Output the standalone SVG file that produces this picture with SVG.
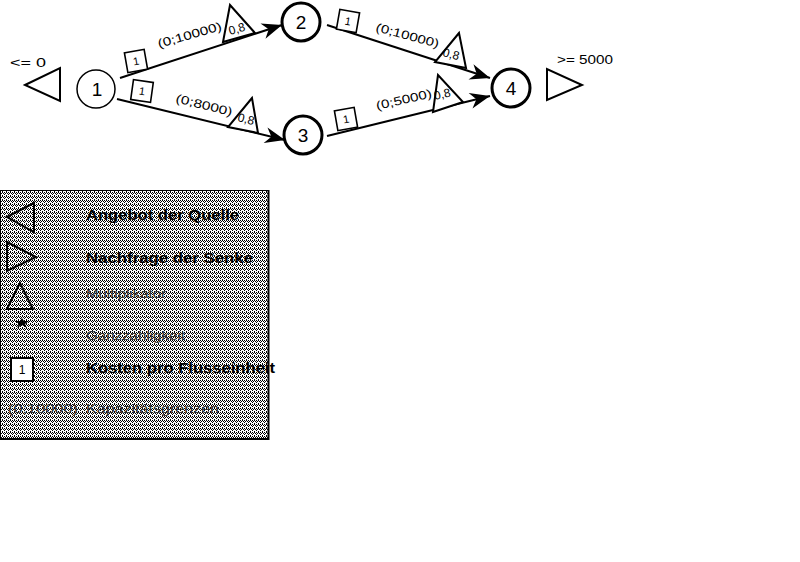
<svg xmlns="http://www.w3.org/2000/svg" width="800" height="562" viewBox="0 0 800 562">
<style>
text{font-family:"Liberation Sans",Arial,sans-serif;fill:#000}
.node circle{fill:#fff;stroke:#000;stroke-width:3}
.num{font-size:19px;text-anchor:middle}
.edge{stroke:#000;stroke-width:2;fill:none;marker-end:url(#ah)}
.mult{fill:#fff;stroke:#000;stroke-width:2;stroke-linejoin:miter}
.cost rect{fill:#fff;stroke:#000;stroke-width:1.6}
.cost text{font-size:11px;text-anchor:middle}
.lbl{font-size:12px}
.ml{font-size:12px}
.sym{fill:none;stroke:#000;stroke-width:2}
.lg{font-size:14px;font-weight:bold}
.lgg{font-size:13px;fill:#303030}
.px{fill:#000}
</style>
<defs>
<marker id="ah" markerUnits="userSpaceOnUse" markerWidth="24" markerHeight="18" viewBox="-22 -9 24 18" refX="0" refY="0" orient="auto">
<path d="M0,0 L-20,-8 L-14,0 L-20,8 Z" fill="#000"/>
</marker>
<pattern id="dith" width="4" height="4" patternUnits="userSpaceOnUse">
<rect width="4" height="4" fill="#fff"/>
<g shape-rendering="crispEdges">
<rect class="px" x="0" y="0" width="1" height="1"/>
<rect class="px" x="2" y="0" width="1" height="1"/>
<rect class="px" x="1" y="1" width="1" height="1"/>
<rect class="px" x="3" y="1" width="1" height="1"/>
<rect class="px" x="0" y="2" width="1" height="1"/>
<rect class="px" x="2" y="3" width="1" height="1"/>
</g>
</pattern>
</defs>
<rect width="800" height="562" fill="#fff"/>

<g id="connectors">
<line class="edge" x1="120" y1="78" x2="282" y2="25"/>
<line class="edge" x1="117" y1="99" x2="285" y2="140"/>
<line class="edge" x1="327" y1="25" x2="490" y2="78"/>
<line class="edge" x1="327" y1="136" x2="490" y2="96"/>
<g id="cost12" class="cost" transform="translate(136,61) rotate(-10)"><rect x="-10" y="-10" width="20" height="20"/><text x="0" y="4">1</text></g>
<g id="cost13" class="cost" transform="translate(142,91) rotate(8)"><rect x="-10" y="-10" width="20" height="20"/><text x="0" y="4">1</text></g>
<g id="cost24" class="cost" transform="translate(348,21) rotate(10)"><rect x="-10" y="-10" width="20" height="20"/><text x="0" y="4">1</text></g>
<g id="cost34" class="cost" transform="translate(346,119) rotate(-10)"><rect x="-10" y="-10" width="20" height="20"/><text x="0" y="4">1</text></g>
<text class="lbl" transform="translate(159,48) rotate(-16)" textLength="66" lengthAdjust="spacingAndGlyphs">(0;10000)</text>
<text class="lbl" transform="translate(175,102) rotate(14)" textLength="58" lengthAdjust="spacingAndGlyphs">(0;8000)</text>
<text class="lbl" transform="translate(375,31) rotate(15)" textLength="65" lengthAdjust="spacingAndGlyphs">(0;10000)</text>
<text class="lbl" transform="translate(377,110) rotate(-13)" textLength="57" lengthAdjust="spacingAndGlyphs">(0;5000)</text>
<polygon class="mult" points="230,5 223,42 255,33"/>
<polygon class="mult" points="252,98 228,127 258,133"/>
<polygon class="mult" points="459,33 435,62 466,68"/>
<polygon class="mult" points="438,75 433,112 463,102"/>
<text class="ml" transform="translate(230,35) rotate(-16)">0,8</text>
<text class="ml" transform="translate(237,121) rotate(14)">0,8</text>
<text class="ml" transform="translate(442,56) rotate(15)">0,8</text>
<text class="ml" transform="translate(435,100) rotate(-13)">0,8</text>
</g>

<g id="source">
<polygon class="sym" points="25,85 60,68 60,101"/>
<text x="10" y="67" font-size="13" textLength="36" lengthAdjust="spacingAndGlyphs">&lt;= 0</text>
</g>
<g id="sink">
<polygon class="sym" points="547,69 547,100 582,85"/>
<text x="557" y="64" font-size="13" textLength="56" lengthAdjust="spacingAndGlyphs">&gt;= 5000</text>
</g>

<g id="node1" class="node"><circle cx="96" cy="89" r="19" style="stroke-width:1.5"/><text class="num" x="97" y="96">1</text></g>
<g id="node2" class="node"><circle cx="301" cy="22" r="19"/><text class="num" x="301" y="29">2</text></g>
<g id="node3" class="node"><circle cx="303" cy="135" r="19"/><text class="num" x="303" y="142">3</text></g>
<g id="node4" class="node"><circle cx="511" cy="88" r="19"/><text class="num" x="511" y="95">4</text></g>

<g id="legend">
<rect x="0" y="190" width="269" height="249" fill="url(#dith)"/>
<path d="M0.5,190.5 H268 M0.5,190.5 V438" stroke="#000" stroke-width="1" fill="none"/>
<path d="M268.5,190 V439 H0" stroke="#000" stroke-width="2" fill="none"/>
<polygon class="sym" points="7,217 34,203 34,232"/>
<polygon class="sym" points="7,242 7,271 36,257"/>
<polygon class="sym" points="20,283 7,309 33,309"/>
<polygon points="22,318 24,321 29,321 25,324 27,328 22,325 17,328 19,324 15,321 20,321" fill="#000"/>
<rect x="11" y="358" width="22" height="23" fill="#fff" stroke="#000" stroke-width="2"/>
<text x="22" y="374" font-size="12" text-anchor="middle">1</text>
<text class="lg" x="86" y="220" textLength="153" lengthAdjust="spacingAndGlyphs">Angebot der Quelle</text>
<text class="lg" x="86" y="263" font-size="15" textLength="167" lengthAdjust="spacingAndGlyphs">Nachfrage der Senke</text>
<text class="lgg" x="86" y="298" textLength="80" lengthAdjust="spacingAndGlyphs">Multiplikator</text>
<text class="lgg" x="86" y="340" textLength="99" lengthAdjust="spacingAndGlyphs">Ganzzahligkeit</text>
<text class="lg" x="86" y="373" font-size="15" textLength="189" lengthAdjust="spacingAndGlyphs">Kosten pro Flusseinheit</text>
<text class="lgg" x="8" y="413" textLength="70" lengthAdjust="spacingAndGlyphs">(0;10000)</text>
<text class="lgg" x="86" y="413" textLength="133" lengthAdjust="spacingAndGlyphs">Kapazitätsgrenzen</text>
</g>
</svg>
